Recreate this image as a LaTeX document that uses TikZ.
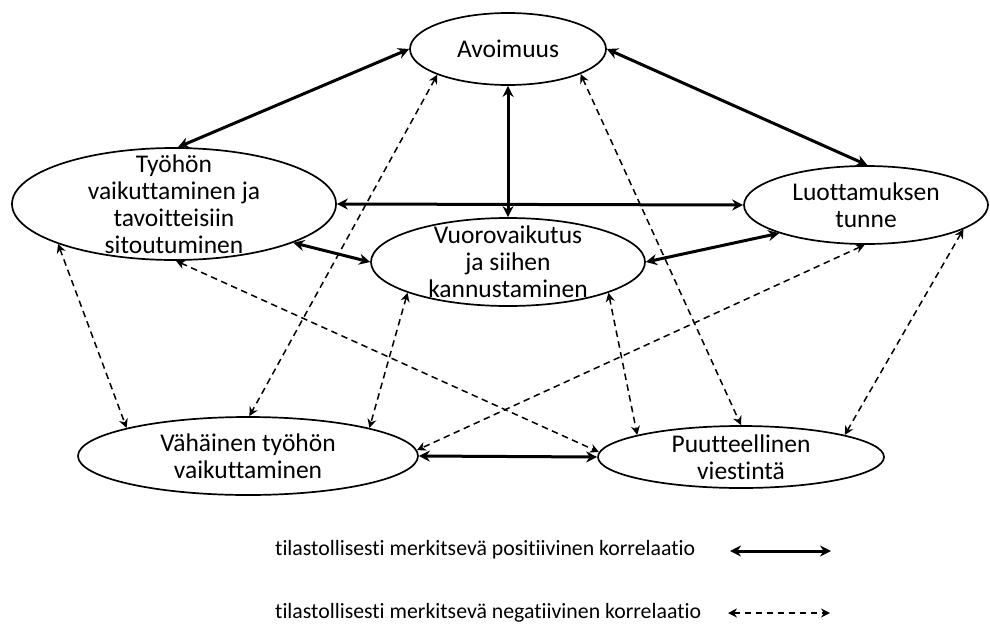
\documentclass[tikz,border=0pt]{standalone}
\usepackage{fontspec}
\setmainfont{Carlito}[Ligatures=NoCommon]
\usetikzlibrary{shapes.geometric,arrows.meta}
\begin{document}
\begin{tikzpicture}[x=1pt,y=-1pt,
  ell/.style={draw, ellipse, line width=1.7pt, inner sep=0pt},
  lab/.style={align=center, inner sep=0pt, font=\fontsize{25.5}{27}\selectfont},
  posline/.style={line width=3pt, {Stealth[length=11pt,width=11pt]}-{Stealth[length=11pt,width=11pt]}},
  negline/.style={line width=1.5pt, dash pattern=on 6.5pt off 4.5pt, {Stealth[length=9pt,width=9pt]}-{Stealth[length=9pt,width=9pt]}},
  legtext/.style={anchor=west, inner sep=0pt, font=\fontsize{21.8}{24}\selectfont}]
\useasboundingbox (0,0) rectangle (990,624);

\node[ell, minimum width=196pt, minimum height=72pt, label={[lab]center:Avoimuus}] (A) at (508,49) {};
\node[ell, minimum width=324pt, minimum height=112pt, label={[lab]center:Työhön\\vaikuttaminen ja\\tavoitteisiin\\sitoutuminen}] (T) at (174,204) {};
\node[ell, minimum width=244pt, minimum height=78pt, label={[lab]center:Luottamuksen\\tunne}] (L) at (866,205) {};
\node[ell, minimum width=274pt, minimum height=88pt, label={[lab]center:Vuorovaikutus\\ja siihen\\kannustaminen}] (V) at (508,262) {};
\node[ell, minimum width=340pt, minimum height=78pt, label={[lab]center:Vähäinen työhön\\vaikuttaminen}] (W) at (248,456) {};
\node[ell, minimum width=286pt, minimum height=62pt, label={[lab]center:Puutteellinen\\viestintä}] (P) at (741,457) {};

% positive correlations
\draw[posline] (T.86) -- (A.180);
\draw[posline] (A.0) -- (L.88);
\draw[posline] (A.270) -- (V.90);
\draw[posline] (T.0) -- (L.180);
\draw[posline] (T.-18) -- (V.180);
\draw[posline] (V.0) -- (L.198);
\draw[posline] (W.0) -- (P.180);

% negative correlations
\draw[negline] (A.200) -- (W.88);
\draw[negline] (A.-19) -- (P.90);
\draw[negline] (T.272) -- (P.178);
\draw[negline] (T.199) -- (W.167);
\draw[negline] (V.197) -- (W.13);
\draw[negline] (V.-17) -- (P.168);
\draw[negline] (L.268) -- (W.2);
\draw[negline] (L.-14) -- (P.12);

% legend
\node[legtext] (lp) at (275,550) {tilastollisesti merkitsevä positiivinen korrelaatio};
\node[legtext] (ln) at (275,613) {tilastollisesti merkitsevä negatiivinen korrelaatio};
\coordinate (lp1) at (730,551);
\coordinate (lp2) at (831,551);
\coordinate (ln1) at (728,613);
\coordinate (ln2) at (830,613);
\draw[posline] (lp1) -- (lp2);
\draw[negline] (ln1) -- (ln2);
\end{tikzpicture}
\end{document}
